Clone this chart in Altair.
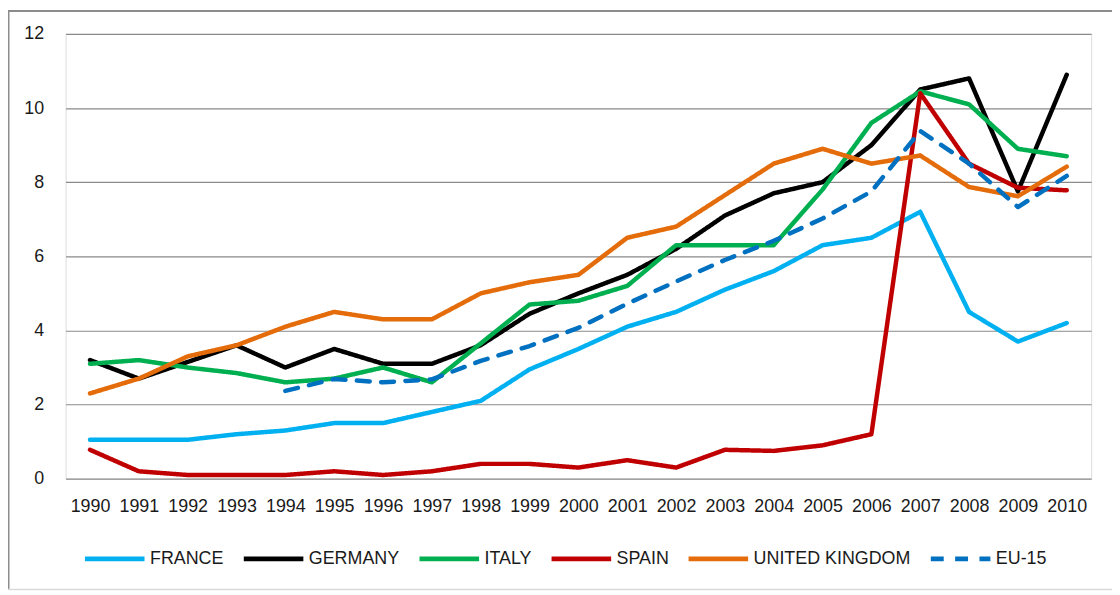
import altair as alt
import pandas as pd

years = [str(y) for y in range(1990, 2011)]

france = [1.05, 1.05, 1.05, 1.2, 1.3, 1.5, 1.5, 1.8, 2.1, 2.95, 3.5, 4.1, 4.5, 5.1, 5.6, 6.3, 6.5, 7.2, 4.5, 3.7, 4.2]
germany = [3.2, 2.7, 3.15, 3.6, 3.0, 3.5, 3.1, 3.1, 3.6, 4.45, 5.0, 5.5, 6.2, 7.1, 7.7, 8.0, 9.0, 10.5, 10.8, 7.75, 10.9]
italy = [3.1, 3.2, 3.0, 2.85, 2.6, 2.7, 3.0, 2.6, 3.65, 4.7, 4.8, 5.2, 6.3, 6.3, 6.3, 7.8, 9.6, 10.45, 10.1, 8.9, 8.7]
spain = [0.78, 0.2, 0.1, 0.1, 0.1, 0.2, 0.1, 0.2, 0.4, 0.4, 0.3, 0.5, 0.3, 0.78, 0.75, 0.9, 1.2, 10.4, 8.5, 7.85, 7.78]
uk = [2.3, 2.7, 3.3, 3.6, 4.1, 4.5, 4.3, 4.3, 5.0, 5.3, 5.5, 6.5, 6.8, 7.65, 8.5, 8.9, 8.5, 8.72, 7.87, 7.62, 8.42]
eu15 = [None, None, None, None, 2.37, 2.69, 2.6, 2.68, 3.18, 3.58, 4.07, 4.72, 5.32, 5.9, 6.42, 7.02, 7.75, 9.38, 8.5, 7.33, 8.17]

series_names = ["FRANCE", "GERMANY", "ITALY", "SPAIN", "UNITED KINGDOM", "EU-15"]
series_values = [france, germany, italy, spain, uk, eu15]
series_colors = ["#00B0F0", "#000000", "#00B050", "#C00000", "#E46C0A", "#0070C0"]
series_dash = [[1, 0], [1, 0], [1, 0], [1, 0], [1, 0], [13, 11.5]]

y_ticks = [0, 2, 4, 6, 8, 10, 12]

rows = []
for name, vals in zip(series_names, series_values):
    for yr, v in zip(years, vals):
        if v is not None:
            rows.append({"year": yr, "value": v, "series": name, "order": series_names.index(name)})
df = pd.DataFrame(rows)

FONT = "Liberation Sans"
FS = 18
W, H = 1033, 448

legend_opts = dict(title=None, orient="none", direction="horizontal",
                   legendX=17, legendY=496, padding=0,
                   symbolType="stroke", symbolSize=3600, symbolStrokeWidth=5,
                   labelFont=FONT, labelFontSize=FS, labelColor="#1a1a1a",
                   labelOffset=3, columnPadding=9, labelLimit=400)

lines = alt.Chart(df).mark_line(strokeWidth=4.5, strokeJoin="round", strokeCap="round").encode(
    x=alt.X("year:O", sort=years,
            scale=alt.Scale(type="point", padding=0.5),
            axis=alt.Axis(title=None, labelAngle=0, ticks=False, tickSize=0, domain=False, grid=False,
                          labelFont=FONT, labelFontSize=FS, labelColor="#1a1a1a", labelPadding=19)),
    y=alt.Y("value:Q",
            scale=alt.Scale(domain=[0, 12], nice=False, zero=True),
            axis=alt.Axis(title=None, values=y_ticks, ticks=False, tickSize=0, domain=False,
                          grid=True, gridColor="#8a8a8a", gridWidth=1.2,
                          labelFont=FONT, labelFontSize=FS, labelColor="#1a1a1a", labelPadding=22)),
    color=alt.Color("series:N", sort=series_names,
                    scale=alt.Scale(domain=series_names, range=series_colors),
                    legend=alt.Legend(**legend_opts)),
    strokeDash=alt.StrokeDash("series:N", sort=series_names,
                              scale=alt.Scale(domain=series_names, range=series_dash),
                              legend=alt.Legend(**legend_opts)),
    order=alt.Order("order:Q"),
)

border_df = pd.DataFrame({"k": [0]})
border_top = alt.Chart(border_df).mark_rule(color="#8c8c8c", strokeWidth=2).encode(
    x=alt.value(-58), x2=alt.value(1060), y=alt.value(-23))
border_left = alt.Chart(border_df).mark_rule(color="#8c8c8c", strokeWidth=2).encode(
    x=alt.value(-57.5), y=alt.value(-24), y2=alt.value(560))
border_bottom = alt.Chart(border_df).mark_rule(color="#d9d9d9", strokeWidth=1.5).encode(
    x=alt.value(-58), x2=alt.value(1060), y=alt.value(559.5))

chart = alt.layer(lines, border_top, border_left, border_bottom).properties(
    width=W, height=H,
    autosize=alt.AutoSizeParams(type="none"),
    padding={"left": 58, "top": 24, "right": 21, "bottom": 112},
).configure_view(stroke=None).configure(background="white")

chart.save("out.html", embed_options={"renderer": "svg", "actions": False})
